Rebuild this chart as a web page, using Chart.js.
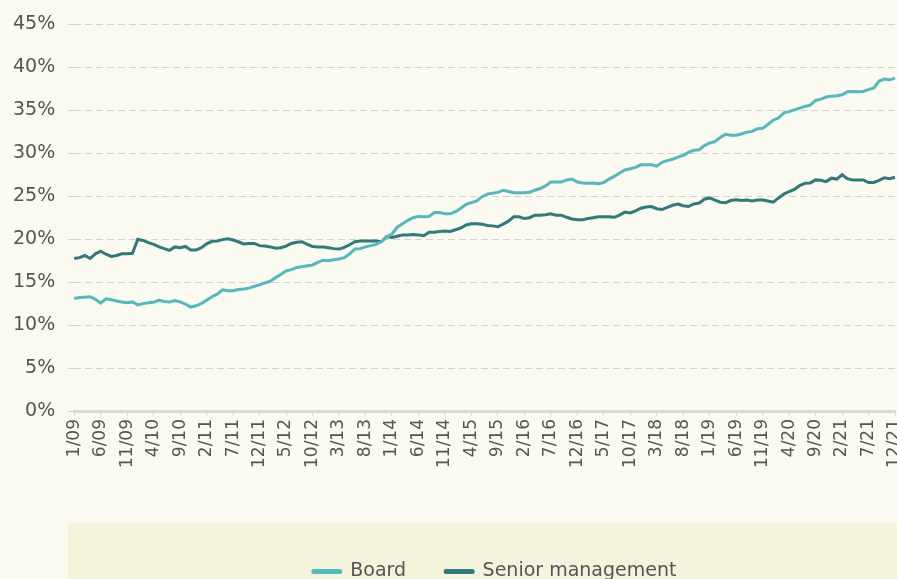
<html>
<head>
	<meta charset="UTF-8">
	<script src="https://cdn.jsdelivr.net/npm/chart.js@4.4.0/dist/chart.umd.min.js"></script>
	<style>
	body { margin:0; background:#fbfbf2; overflow:hidden; }
	#wrap { width:897px; height:591px; position:relative; }
	</style>
</head>

<body>
<div id="wrap"><canvas id="history"></canvas></div>

<script>
// months 1/09 .. 12/21
var months = [];
for (var y = 9; y <= 21; y++)
	for (var m = 1; m <= 12; m++)
		months.push(m + '/' + (y < 10 ? '0' + y : y));

var board = [
	13.1, 13.2, 13.25, 13.3, 13.0, 12.55, 13.05, 12.95, 12.8, 12.7, 12.6, 12.7,
	12.35, 12.5, 12.6, 12.65, 12.9, 12.75, 12.7, 12.85, 12.7, 12.45, 12.1, 12.25,
	12.5, 12.9, 13.3, 13.6, 14.1, 14.0, 14.0, 14.15, 14.2, 14.3, 14.5, 14.7,
	14.9, 15.1, 15.5, 15.9, 16.3, 16.45, 16.7, 16.8, 16.9, 17.0, 17.3, 17.55,
	17.5, 17.6, 17.7, 17.85, 18.3, 18.85, 18.9, 19.1, 19.25, 19.4, 19.7, 20.25,
	20.6, 21.4, 21.8, 22.2, 22.5, 22.65, 22.6, 22.65, 23.1, 23.1, 22.95, 22.95,
	23.2, 23.6, 24.05, 24.25, 24.45, 24.95, 25.25, 25.35, 25.45, 25.7, 25.55, 25.4,
	25.4, 25.4, 25.45, 25.7, 25.9, 26.2, 26.65, 26.65, 26.65, 26.9, 27.0, 26.65,
	26.55, 26.5, 26.55, 26.45, 26.6, 27.0, 27.3, 27.7, 28.05, 28.2, 28.35, 28.65,
	28.65, 28.65, 28.5, 28.95, 29.15, 29.3, 29.55, 29.75, 30.1, 30.35, 30.4, 30.9,
	31.2, 31.35, 31.85, 32.2, 32.1, 32.1, 32.25, 32.45, 32.55, 32.85, 32.9, 33.35,
	33.85, 34.1, 34.7, 34.85, 35.05, 35.25, 35.45, 35.6, 36.15, 36.3, 36.55, 36.65,
	36.7, 36.8, 37.15, 37.2, 37.15, 37.2, 37.4, 37.6, 38.4, 38.65, 38.55, 38.75
];

var senior = [
	17.75, 17.85, 18.1, 17.75, 18.3, 18.6, 18.25, 18.0, 18.1, 18.3, 18.3, 18.35,
	20.0, 19.85, 19.6, 19.4, 19.1, 18.9, 18.7, 19.1, 19.0, 19.15, 18.75, 18.75,
	19.0, 19.45, 19.75, 19.8, 19.95, 20.05, 19.9, 19.7, 19.45, 19.5, 19.5, 19.25,
	19.2, 19.1, 18.95, 19.0, 19.2, 19.5, 19.65, 19.7, 19.4, 19.15, 19.1, 19.1,
	19.0, 18.9, 18.85, 19.05, 19.35, 19.7, 19.8, 19.8, 19.8, 19.8, 19.7, 20.3,
	20.2, 20.35, 20.5, 20.5, 20.55, 20.5, 20.4, 20.8, 20.8, 20.9, 20.95, 20.9,
	21.1, 21.3, 21.65, 21.8, 21.8, 21.75, 21.6, 21.55, 21.45, 21.75, 22.1, 22.6,
	22.6, 22.4, 22.5, 22.8, 22.8, 22.85, 22.95, 22.8, 22.8, 22.55, 22.35, 22.25,
	22.25, 22.4, 22.5, 22.6, 22.6, 22.6, 22.55, 22.8, 23.15, 23.05, 23.3, 23.6,
	23.75, 23.8, 23.55, 23.45, 23.7, 23.95, 24.1, 23.9, 23.8, 24.1, 24.2, 24.65,
	24.8, 24.55, 24.3, 24.25, 24.5, 24.6, 24.5, 24.55, 24.45, 24.55, 24.55, 24.45,
	24.3, 24.8, 25.25, 25.55, 25.8, 26.25, 26.5, 26.55, 26.9, 26.85, 26.7, 27.1,
	27.0, 27.5, 27.05, 26.9, 26.9, 26.9, 26.6, 26.6, 26.85, 27.15, 27.05, 27.2
];

var labelEvery = 5;
var txt = '#555555';
var font = 'DejaVu Sans';

// shaded band behind the legend, legend nudged right a bit
const legendBg = {
	id: 'legendBg',
	afterLayout(chart) {
		chart.legend.left += 10;
		chart.legend.right += 10;
	},
	beforeDraw(chart) {
		var c = chart.ctx, l = chart.legend;
		c.save();
		c.fillStyle = '#f4f4dc';
		c.fillRect(chart.chartArea.left - 6, l.top, chart.width, chart.height);
		c.restore();
	}
};

const ctx = document.getElementById('history').getContext('2d');
new Chart(ctx, {
	type: 'line',
	data: {
		labels: months,
		datasets: [{
			label: 'Board',
			data: board,
			borderColor: '#52b9be',
			backgroundColor: '#52b9be',
			borderWidth: 3,
			pointRadius: 0,
			tension: 0
		}, {
			label: 'Senior management',
			data: senior,
			borderColor: '#2f7a7a',
			backgroundColor: '#2f7a7a',
			borderWidth: 3,
			pointRadius: 0,
			tension: 0
		}]
	},
	options: {
		responsive: true,
		maintainAspectRatio: false,
		animation: false,
		layout: { padding: { top: 12, right: 2, left: 0, bottom: 0 } },
		plugins: {
			tooltip: { enabled: false },
			legend: {
				position: 'bottom',
				fullSize: false,
				labels: {
					color: txt,
					font: { family: font, size: 19 },
					boxWidth: 28,
					boxHeight: 2,
					useBorderRadius: true,
					borderRadius: 1,
					padding: 39
				}
			}
		},
		scales: {
			x: {
				afterFit: function(scale) {
					scale.height += 52;
					scale.paddingRight = 0;
				},
				border: { display: true, color: '#d8d8d8', width: 3 },
				grid: {
					drawOnChartArea: false,
					tickLength: 5,
					color: function(c) { return c.index % labelEvery ? 'rgba(0,0,0,0)' : '#d8d8d8'; }
				},
				ticks: {
					autoSkip: false,
					minRotation: 90,
					maxRotation: 90,
					padding: 3,
					color: txt,
					font: { family: font, size: 17 },
					callback: function(v, i) { return i % labelEvery ? '' : months[i]; }
				}
			},
			y: {
				min: 0,
				max: 45,
				border: { display: false, dash: [7, 4] },
				grid: { color: '#d3d3d3', tickLength: 6, tickBorderDash: [7, 4] },
				ticks: {
					stepSize: 5,
					padding: 13,
					color: txt,
					font: { family: font, size: 19 },
					callback: function(v) { return v + '%'; }
				}
			}
		}
	},
	plugins: [legendBg]
});
</script>

</body>
</html>
